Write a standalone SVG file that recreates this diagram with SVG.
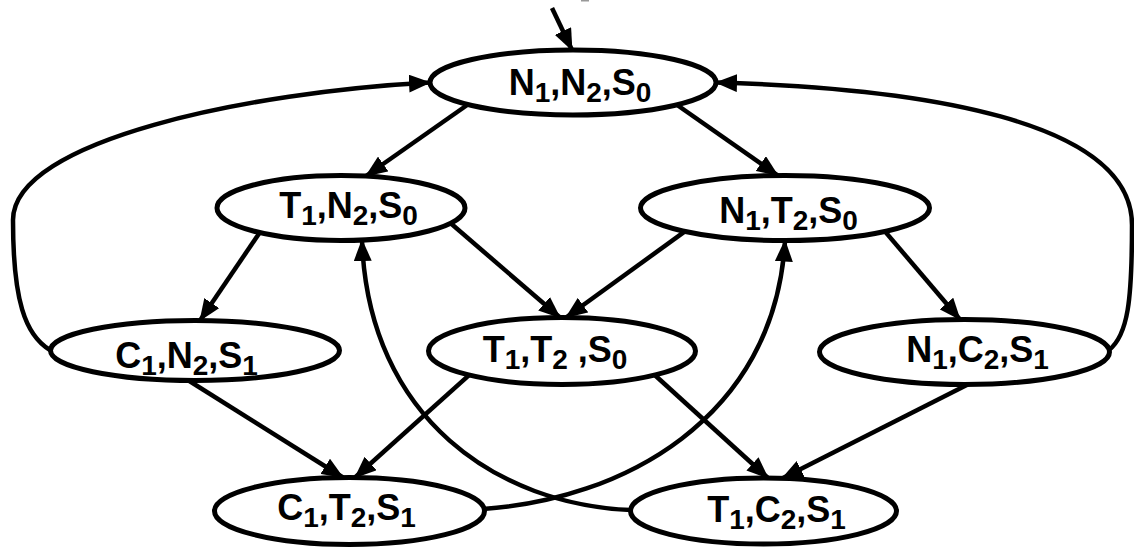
<svg xmlns="http://www.w3.org/2000/svg" width="1134" height="547" viewBox="0 0 1134 547">
  <style>
    .edge { fill: none; stroke: #000; stroke-width: 4.5; marker-end: url(#arrow); }
    .state { fill: #fff; stroke: #000; stroke-width: 5; }
    .label { font-family: "Liberation Sans", Arial, Helvetica, sans-serif; font-weight: bold; font-size: 36px; fill: #000; text-anchor: middle; }
    .sub { font-size: 28px; }
  </style>
  <defs>
    <marker id="arrow" viewBox="0 0 22 18" refX="21" refY="9" markerWidth="22" markerHeight="18" markerUnits="userSpaceOnUse" orient="auto">
      <path d="M0,0 L22,9 L0,18 z" fill="#000"/>
    </marker>
  </defs>

  <rect width="1134" height="547" fill="#fff"/>
  <rect x="581" y="0" width="8" height="1.5" fill="#999"/>

  <!-- transitions (drawn under the states) -->
  <g id="connectors">
    <path class="edge" d="M552,8 L572,50"/>
    <path class="edge" d="M490,89 L366,176"/>
    <path class="edge" d="M650,86 L778,175.6"/>
    <path class="edge" d="M275.4,209.4 L200,320.5"/>
    <path class="edge" d="M429.5,205 L560,317.5"/>
    <path class="edge" d="M710.5,212.9 L566,317.5"/>
    <path class="edge" d="M866.4,209.6 L960,319.5"/>
    <path class="edge" d="M175,372 L343,477.5"/>
    <path class="edge" d="M489.4,356.9 L355,477.5"/>
    <path class="edge" d="M636,358 L768,478"/>
    <path class="edge" d="M990,373.3 L782,478.6"/>
    <path class="edge" d="M483,509 C620,500 775,420 785,240.5"/>
    <path class="edge" d="M631,510 C500,505 368,420 362,240"/>
    <path class="edge" d="M50,350 C25,335 13,300 13,220 C13,140 250,92 430,82.5"/>
    <path class="edge" d="M1109,350 C1128,335 1132,300 1132,225 C1132,120 920,88 716,82.5"/>
  </g>

  <g id="s-n1n2s0">
    <ellipse class="state" cx="573" cy="82.5" rx="143" ry="32.5"/>
    <text class="label" x="580" y="95">N<tspan class="sub" dy="7">1</tspan><tspan dy="-7">,N</tspan><tspan class="sub" dy="7">2</tspan><tspan dy="-7">,S</tspan><tspan class="sub" dy="7">0</tspan></text>
  </g>

  <g id="s-t1n2s0">
    <ellipse class="state" cx="341" cy="208" rx="124" ry="32.5"/>
    <text class="label" x="348.5" y="217.5">T<tspan class="sub" dy="7">1</tspan><tspan dy="-7">,N</tspan><tspan class="sub" dy="7">2</tspan><tspan dy="-7">,S</tspan><tspan class="sub" dy="7">0</tspan></text>
  </g>

  <g id="s-n1t2s0">
    <ellipse class="state" cx="785" cy="208" rx="144.5" ry="32.5"/>
    <text class="label" x="788.5" y="222.5">N<tspan class="sub" dy="7">1</tspan><tspan dy="-7">,T</tspan><tspan class="sub" dy="7">2</tspan><tspan dy="-7">,S</tspan><tspan class="sub" dy="7">0</tspan></text>
  </g>

  <g id="s-c1n2s1">
    <ellipse class="state" cx="195" cy="350.5" rx="144.5" ry="30"/>
    <text class="label" x="186.5" y="368">C<tspan class="sub" dy="7">1</tspan><tspan dy="-7">,N</tspan><tspan class="sub" dy="7">2</tspan><tspan dy="-7">,S</tspan><tspan class="sub" dy="7">1</tspan></text>
  </g>

  <g id="s-t1t2s0">
    <ellipse class="state" cx="562" cy="351" rx="133.5" ry="33.5"/>
    <text class="label" x="555" y="362" xml:space="preserve">T<tspan class="sub" dy="7">1</tspan><tspan dy="-7">,T</tspan><tspan class="sub" dy="7">2</tspan><tspan dy="-7"> ,S</tspan><tspan class="sub" dy="7">0</tspan></text>
  </g>

  <g id="s-n1c2s1">
    <ellipse class="state" cx="964.5" cy="352" rx="145" ry="32.5"/>
    <text class="label" x="977.5" y="362">N<tspan class="sub" dy="7">1</tspan><tspan dy="-7">,C</tspan><tspan class="sub" dy="7">2</tspan><tspan dy="-7">,S</tspan><tspan class="sub" dy="7">1</tspan></text>
  </g>

  <g id="s-c1t2s1">
    <ellipse class="state" cx="349.5" cy="511" rx="135" ry="33.5"/>
    <text class="label" x="346.5" y="520">C<tspan class="sub" dy="7">1</tspan><tspan dy="-7">,T</tspan><tspan class="sub" dy="7">2</tspan><tspan dy="-7">,S</tspan><tspan class="sub" dy="7">1</tspan></text>
  </g>

  <g id="s-t1c2s1">
    <ellipse class="state" cx="763.5" cy="511" rx="133" ry="33"/>
    <text class="label" x="776.5" y="522">T<tspan class="sub" dy="7">1</tspan><tspan dy="-7">,C</tspan><tspan class="sub" dy="7">2</tspan><tspan dy="-7">,S</tspan><tspan class="sub" dy="7">1</tspan></text>
  </g>
</svg>
